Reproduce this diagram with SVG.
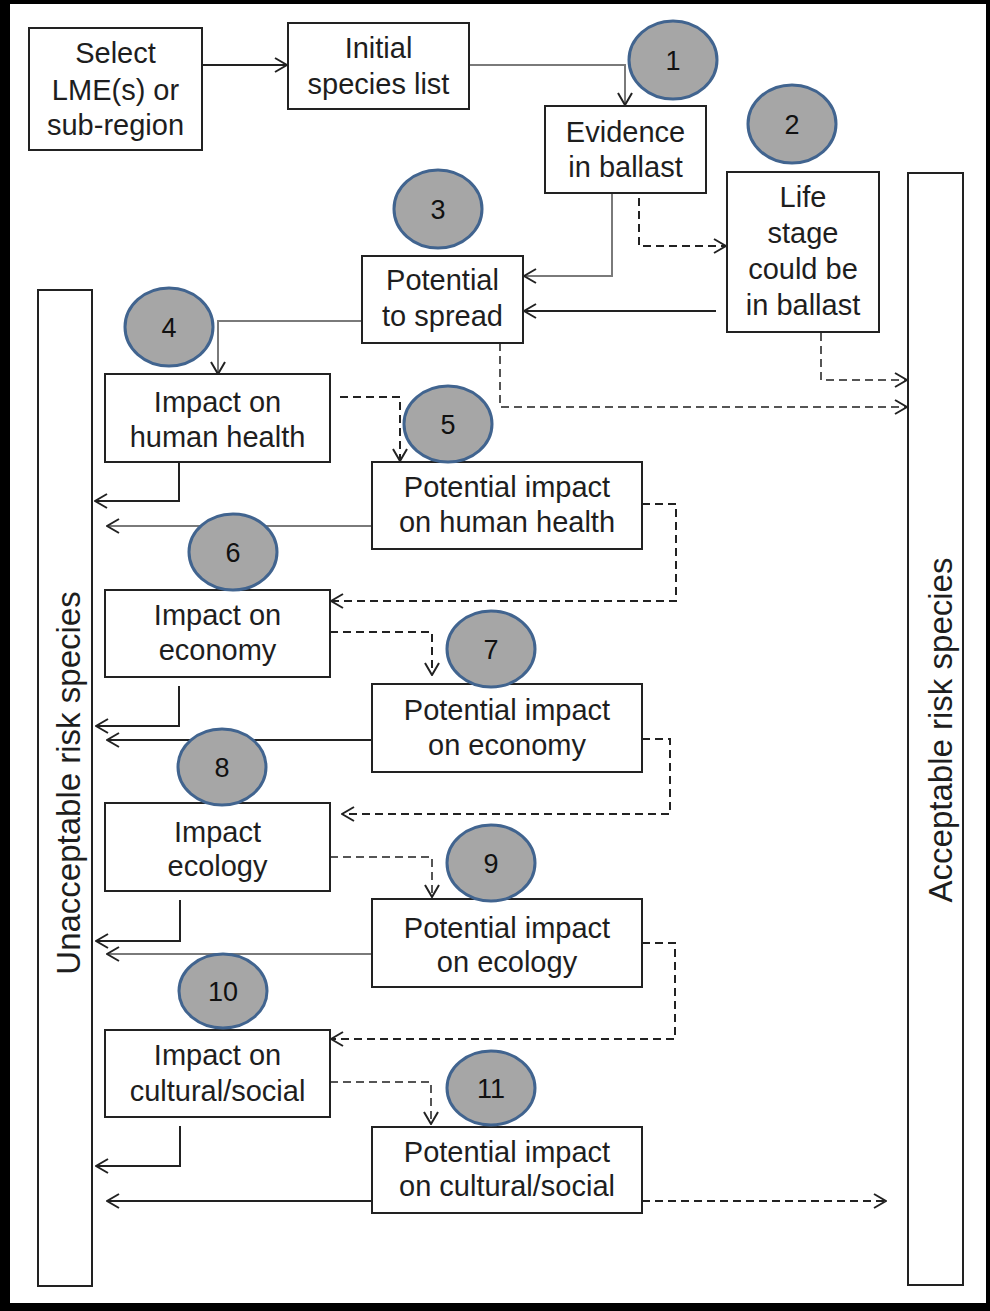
<svg xmlns="http://www.w3.org/2000/svg" width="990" height="1311" viewBox="0 0 990 1311">
<defs>
<style>
.box{fill:#fff;stroke:#222;stroke-width:2}
.t{font-family:"Liberation Sans",Arial,sans-serif;font-size:29px;fill:#1e1e1e;text-anchor:middle}
.vt{font-family:"Liberation Sans",Arial,sans-serif;font-size:33px;fill:#1e1e1e;text-anchor:middle}
.num{font-family:"Liberation Sans",Arial,sans-serif;font-size:27px;fill:#111;text-anchor:middle}
.badge{fill:#a6a6a6;stroke:#41648f;stroke-width:3}
.s{fill:none;stroke:#222;stroke-width:2}
.g{fill:none;stroke:#7a7a7a;stroke-width:2}
.d{fill:none;stroke:#222;stroke-width:2;stroke-dasharray:8,5}
.dg{fill:none;stroke:#555;stroke-width:2;stroke-dasharray:8,5}
</style>
<marker id="arr" viewBox="0 0 14 16" refX="13" refY="8" markerWidth="14" markerHeight="16" markerUnits="userSpaceOnUse" orient="auto">
<path d="M1,1 L13,8 L1,15" fill="none" stroke="#222" stroke-width="2"/>
</marker>
</defs>
<rect x="0" y="0" width="990" height="1311" fill="#000"/>
<rect x="10" y="4" width="976" height="1299" fill="#fff"/>

<g id="connectors">
<path class="s" d="M202,65 H287" marker-end="url(#arr)"/>
<path class="g" d="M469,65 H625 V105" marker-end="url(#arr)"/>
<path class="g" d="M612,193 V276 H524" marker-end="url(#arr)"/>
<path class="s" d="M716,311 H524" marker-end="url(#arr)"/>
<path class="g" d="M361,321 H218 V374" marker-end="url(#arr)"/>
<path class="s" d="M179,462 V501 H95" marker-end="url(#arr)"/>
<path class="g" d="M372,526 H107" marker-end="url(#arr)"/>
<path class="s" d="M179,686 V726 H96" marker-end="url(#arr)"/>
<path class="s" d="M372,740 H107" marker-end="url(#arr)"/>
<path class="s" d="M180,900 V941 H96" marker-end="url(#arr)"/>
<path class="g" d="M372,954 H107" marker-end="url(#arr)"/>
<path class="s" d="M180,1126 V1166 H96" marker-end="url(#arr)"/>
<path class="s" d="M372,1201 H107" marker-end="url(#arr)"/>

<path class="d" d="M639,198 V246 H726" marker-end="url(#arr)"/>
<path class="dg" d="M821,333 V380 H907" marker-end="url(#arr)"/>
<path class="dg" d="M500,343 V407 H907" marker-end="url(#arr)"/>
<path class="d" d="M340,397 H400 V461" marker-end="url(#arr)"/>
<path class="d" d="M642,504 H676 V601 H331" marker-end="url(#arr)"/>
<path class="d" d="M330,632 H432 V675" marker-end="url(#arr)"/>
<path class="d" d="M642,739 H670 V814 H342" marker-end="url(#arr)"/>
<path class="dg" d="M330,857 H432 V897" marker-end="url(#arr)"/>
<path class="d" d="M642,943 H675 V1039 H331" marker-end="url(#arr)"/>
<path class="dg" d="M330,1082 H431 V1124" marker-end="url(#arr)"/>
<path class="d" d="M642,1201 H886" marker-end="url(#arr)"/>
</g>

<g id="select">
<rect class="box" x="29" y="28" width="173" height="122"/>
<text class="t" x="115.5" y="63">Select</text>
<text class="t" x="115.5" y="100">LME(s) or</text>
<text class="t" x="115.5" y="135">sub-region</text>
</g>
<g id="initial">
<rect class="box" x="288" y="23" width="181" height="86"/>
<text class="t" x="378.5" y="58">Initial</text>
<text class="t" x="378.5" y="94">species list</text>
</g>
<g id="evidence">
<rect class="box" x="545" y="106" width="161" height="87"/>
<text class="t" x="625.5" y="142">Evidence</text>
<text class="t" x="625.5" y="177">in ballast</text>
</g>
<g id="lifestage">
<rect class="box" x="727" y="172" width="152" height="160"/>
<text class="t" x="803" y="207">Life</text>
<text class="t" x="803" y="243">stage</text>
<text class="t" x="803" y="279">could be</text>
<text class="t" x="803" y="315">in ballast</text>
</g>
<g id="acceptable">
<rect class="box" x="908" y="173" width="55" height="1112"/>
<text class="vt" transform="translate(952,730) rotate(-90)">Acceptable risk species</text>
</g>
<g id="unacceptable">
<rect class="box" x="38" y="290" width="54" height="996"/>
<text class="vt" transform="translate(80,783) rotate(-90)">Unacceptable risk species</text>
</g>
<g id="spread">
<rect class="box" x="362" y="256" width="161" height="87"/>
<text class="t" x="442.5" y="290">Potential</text>
<text class="t" x="442.5" y="326">to spread</text>
</g>
<g id="ihh">
<rect class="box" x="105" y="374" width="225" height="88"/>
<text class="t" x="217.5" y="412">Impact on</text>
<text class="t" x="217.5" y="447">human health</text>
</g>
<g id="pihh">
<rect class="box" x="372" y="462" width="270" height="87"/>
<text class="t" x="507" y="497">Potential impact</text>
<text class="t" x="507" y="532">on human health</text>
</g>
<g id="ieco">
<rect class="box" x="105" y="590" width="225" height="87"/>
<text class="t" x="217.5" y="625">Impact on</text>
<text class="t" x="217.5" y="660">economy</text>
</g>
<g id="pie">
<rect class="box" x="372" y="684" width="270" height="88"/>
<text class="t" x="507" y="720">Potential impact</text>
<text class="t" x="507" y="755">on economy</text>
</g>
<g id="iecol">
<rect class="box" x="105" y="803" width="225" height="88"/>
<text class="t" x="217.5" y="842">Impact</text>
<text class="t" x="217.5" y="876">ecology</text>
</g>
<g id="piecol">
<rect class="box" x="372" y="899" width="270" height="88"/>
<text class="t" x="507" y="938">Potential impact</text>
<text class="t" x="507" y="972">on ecology</text>
</g>
<g id="icult">
<rect class="box" x="105" y="1030" width="225" height="87"/>
<text class="t" x="217.5" y="1065">Impact on</text>
<text class="t" x="217.5" y="1101">cultural/social</text>
</g>
<g id="picult">
<rect class="box" x="372" y="1127" width="270" height="86"/>
<text class="t" x="507" y="1162">Potential impact</text>
<text class="t" x="507" y="1196">on cultural/social</text>
</g>

<g id="badge1"><ellipse class="badge" cx="673" cy="60" rx="44" ry="39"/><text class="num" x="673" y="70">1</text></g>
<g id="badge2"><ellipse class="badge" cx="792" cy="124" rx="44" ry="39"/><text class="num" x="792" y="134">2</text></g>
<g id="badge3"><ellipse class="badge" cx="438" cy="209" rx="44" ry="39"/><text class="num" x="438" y="219">3</text></g>
<g id="badge4"><ellipse class="badge" cx="169" cy="327" rx="44" ry="39"/><text class="num" x="169" y="337">4</text></g>
<g id="badge5"><ellipse class="badge" cx="448" cy="424" rx="44" ry="38"/><text class="num" x="448" y="434">5</text></g>
<g id="badge6"><ellipse class="badge" cx="233" cy="552" rx="44" ry="38"/><text class="num" x="233" y="562">6</text></g>
<g id="badge7"><ellipse class="badge" cx="491" cy="649" rx="44" ry="38"/><text class="num" x="491" y="659">7</text></g>
<g id="badge8"><ellipse class="badge" cx="222" cy="767" rx="44" ry="38"/><text class="num" x="222" y="777">8</text></g>
<g id="badge9"><ellipse class="badge" cx="491" cy="863" rx="44" ry="38"/><text class="num" x="491" y="873">9</text></g>
<g id="badge10"><ellipse class="badge" cx="223" cy="991" rx="44" ry="37"/><text class="num" x="223" y="1001">10</text></g>
<g id="badge11"><ellipse class="badge" cx="491" cy="1088" rx="44" ry="37"/><text class="num" x="491" y="1098">11</text></g>
</svg>
